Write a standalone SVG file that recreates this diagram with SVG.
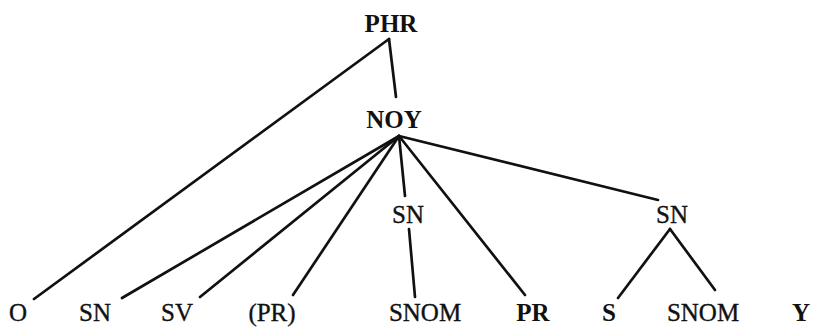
<svg xmlns="http://www.w3.org/2000/svg" width="813" height="327" viewBox="0 0 813 327">
  <style>
    .lbl { font-family: "Liberation Serif", "Times New Roman", serif; font-size: 25px; fill: #111; stroke: #111; stroke-width: 0.35; text-anchor: middle; }
    .strong { font-weight: bold; stroke-width: 0; }
    .top { font-size: 25px; font-weight: bold; stroke-width: 0; }
    .edge { stroke: #111; stroke-width: 2.7; stroke-linecap: round; fill: none; }
  </style>
  <rect width="813" height="327" fill="#fff"/>

  <g id="connectors">
    <!-- PHR -->
    <line class="edge" x1="389" y1="39" x2="34" y2="299"/>
    <line class="edge" x1="389" y1="39" x2="396" y2="97"/>
    <!-- NOY fan -->
    <line class="edge" x1="399" y1="136" x2="122" y2="298"/>
    <line class="edge" x1="399" y1="136" x2="200" y2="297"/>
    <line class="edge" x1="399" y1="136" x2="293" y2="295"/>
    <line class="edge" x1="399" y1="136" x2="405" y2="196"/>
    <line class="edge" x1="399" y1="136" x2="525" y2="295"/>
    <line class="edge" x1="399" y1="136" x2="658" y2="200"/>
    <!-- middle SN -->
    <line class="edge" x1="409" y1="229" x2="415" y2="297"/>
    <!-- right SN -->
    <line class="edge" x1="670" y1="229" x2="618" y2="298"/>
    <line class="edge" x1="670" y1="229" x2="715" y2="290"/>
  </g>

  <g id="PHR"><text class="lbl top" x="391" y="32">PHR</text></g>
  <g id="NOY"><text class="lbl top" x="394" y="128">NOY</text></g>
  <g id="SN-mid"><text class="lbl" x="408" y="223">SN</text></g>
  <g id="SN-right"><text class="lbl" x="672" y="223">SN</text></g>

  <g id="O"><text class="lbl" x="18" y="321">O</text></g>
  <g id="SN-left"><text class="lbl" x="95" y="321">SN</text></g>
  <g id="SV"><text class="lbl" x="177" y="321">SV</text></g>
  <g id="PR-opt"><text class="lbl" x="272" y="321">(PR)</text></g>
  <g id="SNOM-mid"><text class="lbl" x="425" y="321">SNOM</text></g>
  <g id="PR"><text class="lbl strong" x="533" y="321">PR</text></g>
  <g id="S"><text class="lbl strong" x="609" y="321">S</text></g>
  <g id="SNOM-right"><text class="lbl" x="703" y="321">SNOM</text></g>
  <g id="Y"><text class="lbl strong" x="801" y="321">Y</text></g>
</svg>
